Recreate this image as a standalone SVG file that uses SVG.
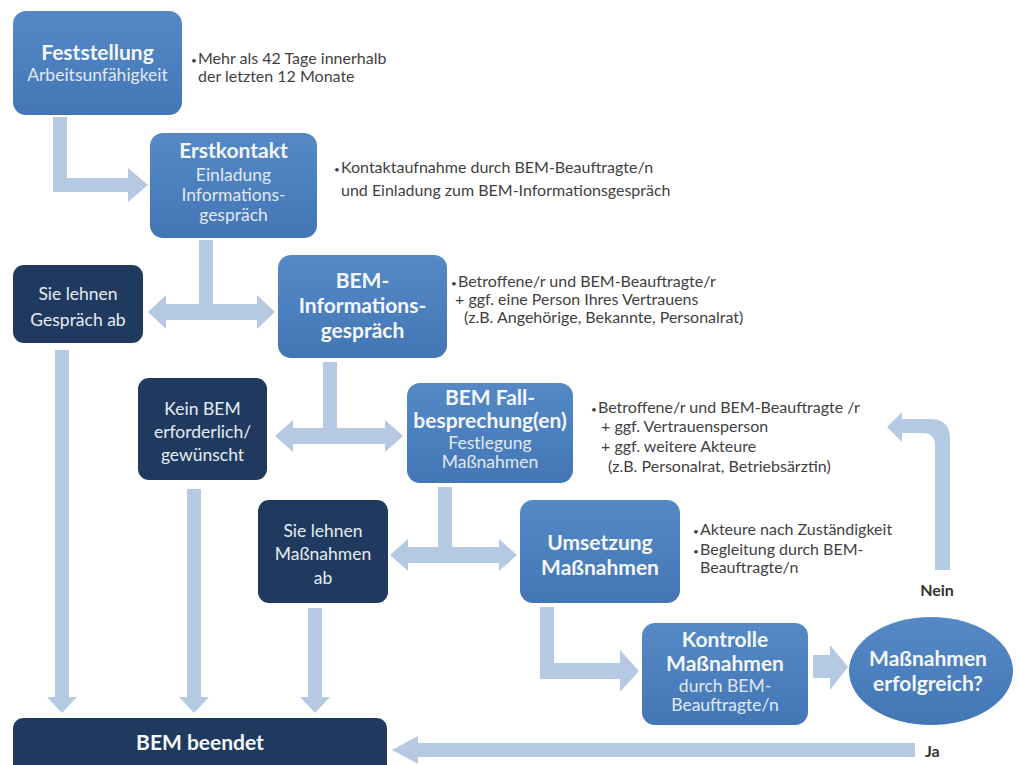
<svg xmlns="http://www.w3.org/2000/svg" width="1019" height="765" viewBox="0 0 1019 765">
<defs>
<linearGradient id="gb" x1="0" y1="0" x2="0" y2="1">
<stop offset="0" stop-color="#5489c6"/>
<stop offset="1" stop-color="#4476b5"/>
</linearGradient>
<style>
.blue{fill:url(#gb);}
.dark{fill:#1f3a5e;}
.arr{fill:#b6c9e2;}
text{font-family:Lato,"Open Sans","Liberation Sans",sans-serif;}
.tb{font-weight:bold;fill:#f4f8fc;text-anchor:middle;font-size:21px;}
.tr{fill:#e0e9f5;text-anchor:middle;font-size:17.5px;}
.td{fill:#e6ecf4;text-anchor:middle;font-size:17.5px;}
.bl{fill:#3f3f3f;font-size:16px;}
.bu{font-size:10px;}
.lab{font-weight:bold;fill:#333333;font-size:16px;}
</style>
</defs>
<rect width="1019" height="765" fill="#ffffff"/>

<g id="connectors">
<path class="arr" d="M53,117 H67 V178 H128 V168 L148,185 L128,202 V192 H53 Z"/>
<path class="arr" d="M199,240 H213 V304 H257 V295 L275,312 L257,329 V320 H166 V329 L148,312 L166,295 V304 H199 Z"/>
<path class="arr" d="M323,362 H337 V428 H385 V420 L403,436 L385,452 V444 H293 V452 L275,436 L293,420 V428 H323 Z"/>
<path class="arr" d="M438,487 H452 V547 H499 V539 L517,555 L499,571 V563 H408 V571 L390,555 L408,539 V547 H438 Z"/>
<path class="arr" d="M540,607 H554 V663 H620 V650 L639,671 L620,692 V679 H540 Z"/>
<path class="arr" d="M813,655 H830 V645 L848,667 L830,690 V678 H813 Z"/>
<path class="arr" d="M935,570 V446 Q935,433 922,433 H902 V442 L887,427 L902,412 V419 H930 Q950,419 950,439 V570 Z"/>
<path class="arr" d="M915,743 V757 H418 V764 L392,750 L418,736 V743 Z"/>
<path class="arr" d="M55,350 H69 V697 H77 L62,713 L47,697 H55 Z"/>
<path class="arr" d="M187,489 H201 V697 H209 L194,713 L179,697 H187 Z"/>
<path class="arr" d="M308,608 H322 V697 H330 L315,713 L300,697 H308 Z"/>
</g>

<g id="feststellung">
<rect class="blue" x="13" y="11" width="169" height="104" rx="13"/>
<text class="tb" x="97.5" y="60" font-size="22">Feststellung</text>
<text class="tr" x="97.5" y="81" font-size="18.5">Arbeitsunfähigkeit</text>
<text class="bl" x="191" y="64"><tspan class="bu">•</tspan><tspan x="198">Mehr als 42 Tage innerhalb</tspan></text>
<text class="bl" x="198" y="82">der letzten 12 Monate</text>
</g>

<g id="erstkontakt">
<rect class="blue" x="150" y="133" width="167" height="105" rx="13"/>
<text class="tb" x="233.5" y="158">Erstkontakt</text>
<text class="tr" x="233.5" y="181">Einladung</text>
<text class="tr" x="233.5" y="201">Informations-</text>
<text class="tr" x="233.5" y="221">gespräch</text>
<text class="bl" x="334" y="173"><tspan class="bu">•</tspan><tspan x="341">Kontaktaufnahme  durch BEM-Beauftragte/n</tspan></text>
<text class="bl" x="341" y="196">und Einladung zum BEM-Informationsgespräch</text>
</g>

<g id="gespraech-ab">
<rect class="dark" x="13" y="265" width="130" height="78" rx="11"/>
<text class="td" x="78" y="300">Sie lehnen</text>
<text class="td" x="78" y="326">Gespräch ab</text>
</g>

<g id="bem-info">
<rect class="blue" x="278" y="255" width="169" height="103" rx="13"/>
<text class="tb" x="362.5" y="288">BEM-</text>
<text class="tb" x="362.5" y="313">Informations-</text>
<text class="tb" x="362.5" y="338">gespräch</text>
<text class="bl" x="451" y="287"><tspan class="bu">•</tspan><tspan x="458">Betroffene/r und BEM-Beauftragte/r</tspan></text>
<text class="bl" x="455" y="305">+ ggf. eine Person Ihres Vertrauens</text>
<text class="bl" x="464" y="323">(z.B. Angehörige, Bekannte, Personalrat)</text>
</g>

<g id="kein-bem">
<rect class="dark" x="138" y="378" width="129" height="102" rx="11"/>
<text class="td" x="202.5" y="415">Kein BEM</text>
<text class="td" x="202.5" y="438">erforderlich/</text>
<text class="td" x="202.5" y="461">gewünscht</text>
</g>

<g id="fallbesprechung">
<rect class="blue" x="407" y="383" width="166" height="100" rx="13"/>
<text class="tb" x="490" y="405" font-size="19.5">BEM Fall-</text>
<text class="tb" x="490" y="428" font-size="19.5">besprechung(en)</text>
<text class="tr" x="490" y="449">Festlegung</text>
<text class="tr" x="490" y="468">Maßnahmen</text>
<text class="bl" x="591" y="413"><tspan class="bu">•</tspan><tspan x="598">Betroffene/r und BEM-Beauftragte /r</tspan></text>
<text class="bl" x="601" y="432">+ ggf. Vertrauensperson</text>
<text class="bl" x="601" y="452">+ ggf. weitere Akteure</text>
<text class="bl" x="608" y="472">(z.B. Personalrat, Betriebsärztin)</text>
</g>

<g id="massnahmen-ab">
<rect class="dark" x="258" y="500" width="130" height="103" rx="11"/>
<text class="td" x="323" y="537">Sie lehnen</text>
<text class="td" x="323" y="560">Maßnahmen</text>
<text class="td" x="323" y="584">ab</text>
</g>

<g id="umsetzung">
<rect class="blue" x="520" y="500" width="160" height="103" rx="13"/>
<text class="tb" x="600" y="550" font-size="21">Umsetzung</text>
<text class="tb" x="600" y="575" font-size="21">Maßnahmen</text>
<text class="bl" x="693" y="535"><tspan class="bu">•</tspan><tspan x="700">Akteure nach Zuständigkeit</tspan></text>
<text class="bl" x="693" y="555"><tspan class="bu">•</tspan><tspan x="700">Begleitung durch BEM-</tspan></text>
<text class="bl" x="700" y="573">Beauftragte/n</text>
</g>

<g id="kontrolle">
<rect class="blue" x="642" y="623" width="166" height="102" rx="13"/>
<text class="tb" x="725" y="647" font-size="21">Kontrolle</text>
<text class="tb" x="725" y="671" font-size="21">Maßnahmen</text>
<text class="tr" x="725" y="692">durch BEM-</text>
<text class="tr" x="725" y="711">Beauftragte/n</text>
</g>

<g id="erfolgreich">
<ellipse class="blue" cx="931" cy="671" rx="82" ry="54"/>
<text class="tb" x="928" y="666" font-size="20">Maßnahmen</text>
<text class="tb" x="928" y="691" font-size="20">erfolgreich?</text>
</g>

<g id="beendet">
<rect class="dark" x="13" y="718" width="374" height="60" rx="10"/>
<text class="tb" x="200" y="750" font-size="20">BEM beendet</text>
</g>

<g id="labels">
<text class="lab" x="937" y="596" text-anchor="middle">Nein</text>
<text class="lab" x="925" y="757">Ja</text>
</g>
</svg>
